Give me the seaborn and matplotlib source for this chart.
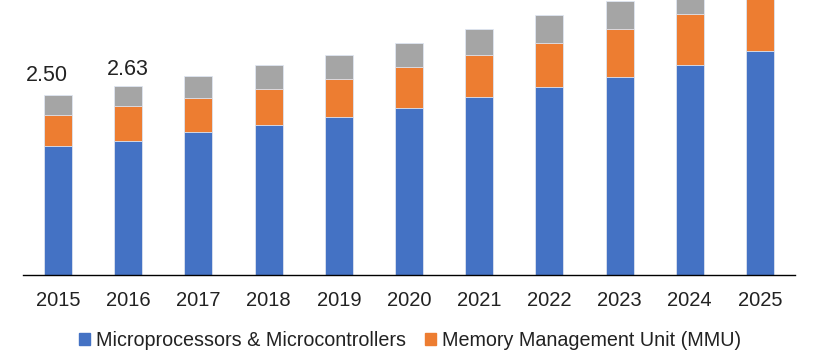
import matplotlib
matplotlib.use("Agg")
import matplotlib.pyplot as plt
import seaborn as sns
import numpy as np
import pandas as pd
from matplotlib.patches import Patch

years = ["2015", "2016", "2017", "2018", "2019", "2020", "2021", "2022", "2023", "2024", "2025"]
micro = [1.79, 1.86, 1.99, 2.08, 2.20, 2.32, 2.47, 2.61, 2.75, 2.92, 3.11]
mmu = [0.43, 0.49, 0.47, 0.50, 0.52, 0.57, 0.59, 0.61, 0.67, 0.71, 0.75]
others = [0.28, 0.28, 0.31, 0.33, 0.34, 0.33, 0.35, 0.39, 0.38, 0.39, 0.42]
labels = {"2015": "2.50", "2016": "2.63"}
series_names = ["Microprocessors & Microcontrollers", "Memory Management Unit (MMU)", "Others"]
colors = ["#4472C4", "#ED7D31", "#A5A5A5"]

sns.set_theme(style="white")
plt.rcParams["font.family"] = ["Liberation Sans", "DejaVu Sans"]

df = pd.DataFrame({"year": years, "micro": micro, "mmu": mmu, "others": others})
df["c1"] = df["micro"]
df["c2"] = df["micro"] + df["mmu"]
df["c3"] = df["c2"] + df["others"]

fig = plt.figure(figsize=(8.2, 3.5), dpi=100)
ax = fig.add_axes([23/820, 75/350, (795-23)/820, 275/350])

for col, c in zip(["c3", "c2", "c1"], colors[::-1]):
    sns.barplot(data=df, x="year", y=col, color=c, width=0.4, ax=ax,
                edgecolor="#dfe6f2", linewidth=0.6, saturation=1)

ax.set_xlim(-0.5, 10.5)
ax.set_ylim(0, 275/72)
ax.set_xlabel("")
ax.set_ylabel("")
ax.set_yticks([])
for s in ["top", "right", "left"]:
    ax.spines[s].set_visible(False)
ax.spines["bottom"].set_color("black")
ax.spines["bottom"].set_linewidth(1.0)
ax.tick_params(axis="x", length=0, pad=11.5, labelsize=14.5, colors="#222222")

xoff = {"2015": -0.16, "2016": 0.0}
yoff = {"2015": 6.5, "2016": 4.0}
for i, y in enumerate(years):
    if y in labels:
        ax.annotate(labels[y], (i + xoff[y], df["c3"][i]), xytext=(0, yoff[y]),
                    textcoords="offset points", ha="center", va="bottom",
                    fontsize=15.5, color="#222222")

handles = [Patch(color=colors[0]), Patch(color=colors[1])]
fig.legend(handles, series_names[:2], loc="center left", bbox_to_anchor=(71/820, 1 - 340.5/350),
           ncol=2, frameon=False, fontsize=14.2, handlelength=0.55, handleheight=0.55,
           handletextpad=0.3, columnspacing=1.0, borderaxespad=0, labelcolor="#222222")

fig.savefig("out.png", dpi=100)
